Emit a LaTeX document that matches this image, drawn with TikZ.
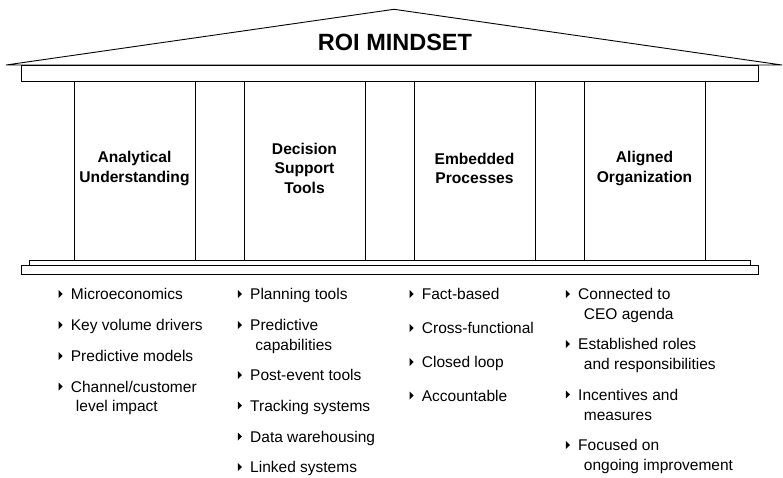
\documentclass[tikz,border=0pt]{standalone}
\usepackage{fontspec}
\setmainfont{Liberation Sans}
\newcommand\mytri{\tikz[baseline=0pt]\fill (0pt,1.5pt) -- (0pt,9.5pt) -- (4.2pt,5.5pt) -- cycle;\hspace{8.2pt}}
\begin{document}
\begin{tikzpicture}[x=1pt,y=-1pt,line width=0.9pt,
  item/.style={anchor=base west, inner sep=0pt, font=\fontsize{15.5}{19.5}\selectfont},
  pillar/.style={draw, minimum width=121pt, minimum height=179pt, inner sep=0pt},
  plabel/.style={align=center, inner sep=0pt, font=\fontsize{15.6}{19.5}\selectfont\bfseries},
  title/.style={anchor=base, inner sep=0pt, font=\fontsize{23.5}{28}\selectfont\bfseries}]
\useasboundingbox (0,0) rectangle (783,477);
% roof
\draw (6,65) -- (394,9.3) -- (782,65) -- cycle;
\draw (21,65) rectangle (758,81);
\node[title] (title) at (395,50) {ROI MINDSET};
% pillars
\node[pillar] (p1) at (134.5,170.5) {};
\node[pillar] (p2) at (304.5,170.5) {};
\node[pillar] (p3) at (474.5,170.5) {};
\node[pillar] (p4) at (644.5,170.5) {};
\node[plabel] (l1) at (134.5,168.5) {Analytical\\Understanding};
\node[plabel] (l2) at (304.5,168) {Decision\\Support\\Tools};
\node[plabel] (l3) at (474.5,168.5) {Embedded\\Processes};
\node[plabel] (l4) at (644.5,168.5) {Aligned\\Organization};
% base
\draw (29,260) rectangle (750,265);
\draw (21,265) rectangle (758,274);
% column 1
\node[item] (a1) at (58.3,299.5) {\mytri Microeconomics};
\node[item] (a2) at (58.3,330.5) {\mytri Key volume drivers};
\node[item] (a3) at (58.3,361.5) {\mytri Predictive models};
\node[item] (a4) at (58.3,392) {\mytri Channel/customer};
\node[item] (a4b) at (75.5,411.5) {level impact};
% column 2
\node[item] (b1) at (237.6,299.5) {\mytri Planning tools};
\node[item] (b2) at (237.6,330.5) {\mytri Predictive};
\node[item] (b2b) at (255,350) {capabilities};
\node[item] (b3) at (237.6,380.5) {\mytri Post-event tools};
\node[item] (b4) at (237.6,411) {\mytri Tracking systems};
\node[item] (b5) at (237.6,442) {\mytri Data warehousing};
\node[item] (b6) at (237.6,472.5) {\mytri Linked systems};
% column 3
\node[item] (c1) at (409.3,299.5) {\mytri Fact-based};
\node[item] (c2) at (409.3,333.5) {\mytri Cross-functional};
\node[item] (c3) at (409.3,367.5) {\mytri Closed loop};
\node[item] (c4) at (409.3,401) {\mytri Accountable};
% column 4
\node[item] (d1) at (565.6,299.5) {\mytri Connected to};
\node[item] (d1b) at (583.5,319.5) {CEO agenda};
\node[item] (d2) at (565.6,349.5) {\mytri Established roles};
\node[item] (d2b) at (583.5,369.5) {and responsibilities};
\node[item] (d3) at (565.6,400) {\mytri Incentives and};
\node[item] (d3b) at (583.5,420) {measures};
\node[item] (d4) at (565.6,450.5) {\mytri Focused on};
\node[item] (d4b) at (583.5,470) {ongoing improvement};
\end{tikzpicture}
\end{document}
